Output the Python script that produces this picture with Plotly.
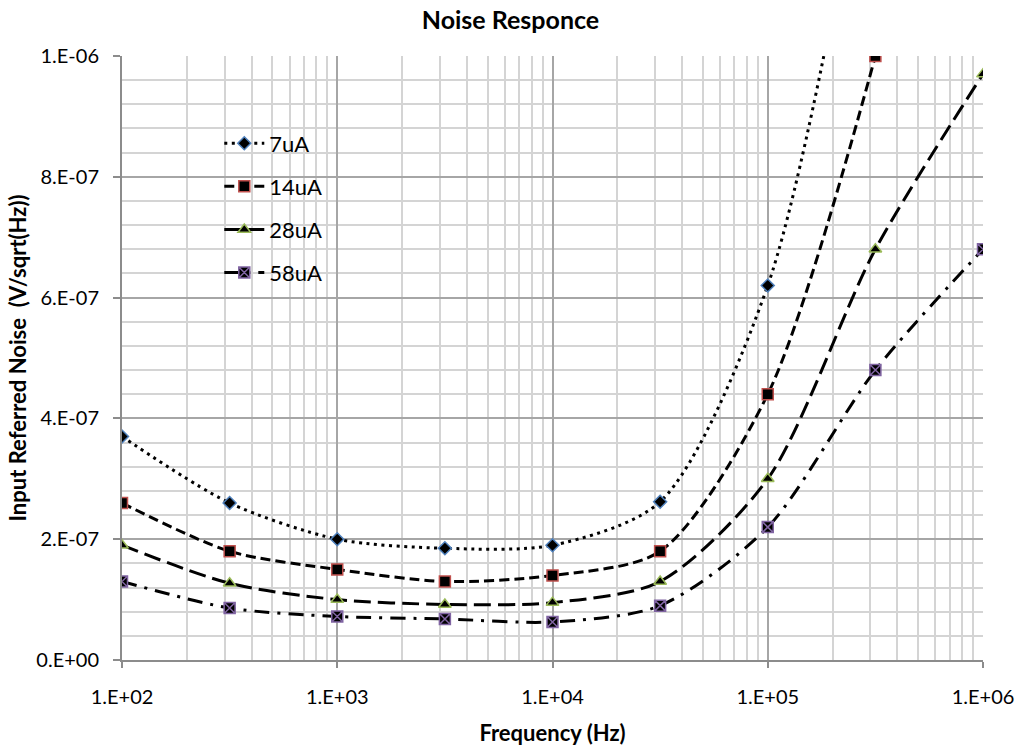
import plotly.graph_objects as go

freq = [1e2, 316.23, 1e3, 3162.3, 1e4, 31623, 1e5, 316230, 1e6]
noise_7uA = [3.7e-7, 2.6e-7, 2.0e-7, 1.85e-7, 1.9e-7, 2.62e-7, 6.2e-7, 1.45e-6]
noise_14uA = [2.6e-7, 1.8e-7, 1.5e-7, 1.3e-7, 1.4e-7, 1.8e-7, 4.4e-7, 1.0e-6]
noise_28uA = [1.9e-7, 1.27e-7, 1.0e-7, 9.2e-8, 9.5e-8, 1.3e-7, 3.0e-7, 6.8e-7, 9.7e-7]
noise_58uA = [1.3e-7, 8.6e-8, 7.2e-8, 6.8e-8, 6.3e-8, 9.0e-8, 2.2e-7, 4.8e-7, 6.8e-7]

series_names = ["7uA", "14uA", "28uA", "58uA"]

x_tickvals = [1e2, 1e3, 1e4, 1e5, 1e6]
x_ticktext = ["1.E+02", "1.E+03", "1.E+04", "1.E+05", "1.E+06"]
x_minor = [m * 10 ** d for d in range(2, 6) for m in range(2, 10)]
y_tickvals = [0, 2e-7, 4e-7, 6e-7, 8e-7, 1e-6]
y_ticktext = ["0.E+00", "2.E-07", "4.E-07", "6.E-07", "8.E-07", "1.E-06"]

FONT = "Lato, Carlito, Calibri, sans-serif"

styles = [
    dict(dash="3px,4.5px", symbol="diamond", size=10, line="#4F81BD"),
    dict(dash="10px,5px", symbol="square", size=11, line="#C0504D"),
    dict(dash="17px,7px", symbol="triangle-up", size=11, line="#9BBB59"),
    dict(dash="15px,8px,3px,8px", symbol="square-x", size=11, line="#8064A2"),
]
data = [noise_7uA, noise_14uA, noise_28uA, noise_58uA]

fig = go.Figure()
for name, ys, st in zip(series_names, data, styles):
    fig.add_trace(go.Scatter(
        x=freq[:len(ys)], y=ys, name=name, mode="lines+markers",
        legendgroup=name,
        line=dict(color="black", width=3, dash=st["dash"], shape="spline", smoothing=0.8),
        marker=dict(symbol=st["symbol"], size=st["size"], color="black",
                    line=dict(color=st["line"], width=1.5)),
        cliponaxis=True,
    ))

fig.update_layout(
    width=1021, height=750,
    margin=dict(l=122, r=38, t=56, b=90),
    paper_bgcolor="white", plot_bgcolor="white",
    font=dict(family=FONT, color="black", size=20),
    title=dict(text="<b>Noise Responce</b>", x=0.5, xanchor="center", y=0.973, yanchor="middle",
               font=dict(size=25, family=FONT)),
    legend=dict(x=0.113, y=0.89, xanchor="left", yanchor="top",
                bgcolor="rgba(0,0,0,0)", font=dict(size=22, family=FONT),
                traceorder="grouped", tracegroupgap=11.5, itemwidth=40),
    showlegend=True,
)

fig.update_xaxes(
    type="log", range=[2, 6], automargin=False,
    tickvals=x_tickvals, ticktext=x_ticktext,
    showgrid=True, gridcolor="#A6A6A6", gridwidth=1.5,
    minor=dict(tickvals=x_minor, showgrid=True, gridcolor="#D4D4D4", gridwidth=1.5, ticks=""),
    showline=True, linecolor="#8C8C8C", linewidth=2,
    ticks="outside", ticklen=6, tickcolor="#8C8C8C", tickwidth=1.5,
    ticklabelstandoff=12,
    tickfont=dict(size=20, family=FONT),
    title=dict(text="<b>Frequency (Hz)</b>", font=dict(size=22, family=FONT), standoff=19),
    zeroline=False,
)
fig.update_yaxes(
    range=[0, 1e-6], automargin=False,
    tickvals=y_tickvals, ticktext=y_ticktext,
    showgrid=True, gridcolor="#A6A6A6", gridwidth=1.5,
    minor=dict(dtick=4e-8, showgrid=True, gridcolor="#D4D4D4", gridwidth=1.5, ticks=""),
    showline=True, linecolor="#8C8C8C", linewidth=2,
    ticks="outside", ticklen=7, tickcolor="#8C8C8C", tickwidth=1.5,
    ticklabelstandoff=10,
    tickfont=dict(size=20, family=FONT),
    title=dict(text="<b>Input Referred Noise  (V/sqrt(Hz))</b>", font=dict(size=22, family=FONT), standoff=4),
    zeroline=False,
)

fig.write_html("out.html")
